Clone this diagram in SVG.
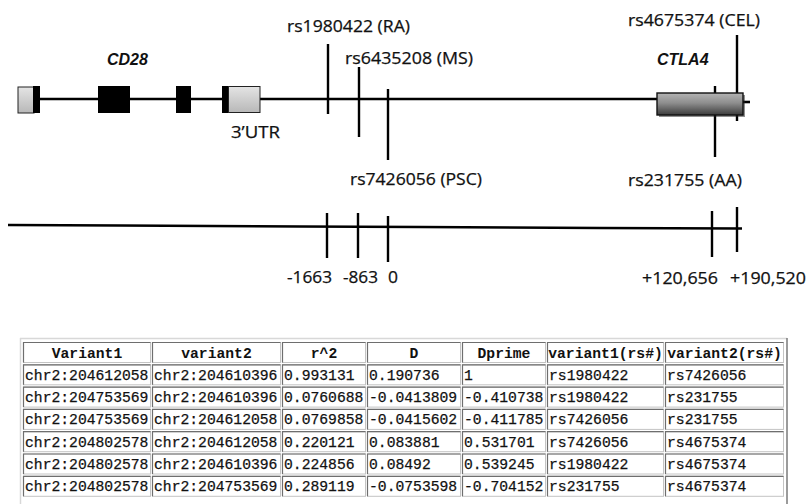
<svg xmlns="http://www.w3.org/2000/svg" width="809" height="504" viewBox="0 0 809 504">
<defs>
<linearGradient id="utr" x1="0" y1="0" x2="0" y2="1">
<stop offset="0" stop-color="#e4e4e4"/><stop offset="1" stop-color="#b8b8b8"/>
</linearGradient>
<linearGradient id="ctla" x1="0" y1="0" x2="0" y2="1">
<stop offset="0" stop-color="#b4b4b4"/><stop offset="0.45" stop-color="#8e8e8e"/><stop offset="1" stop-color="#3c3c3c"/>
</linearGradient>
<style>
.ln{stroke:#000;stroke-width:2.6;fill:none;stroke-linecap:butt}
.tk{stroke:#000;stroke-width:2.4;fill:none}
.lab{font-family:"Open Sans","Liberation Sans",sans-serif;font-size:16.5px;fill:#111;stroke:#111;stroke-width:0.25}
.gene{font-family:"Liberation Sans",Arial,sans-serif;font-size:16px;font-weight:bold;font-style:italic;fill:#111}
.th{font-family:"Liberation Mono","Courier New",monospace;font-size:14.7px;font-weight:bold;fill:#111;text-anchor:middle}
.td{font-family:"Liberation Mono","Courier New",monospace;font-size:14.7px;fill:#111;stroke:#111;stroke-width:0.25}
.cell{fill:#fff;stroke:#c4c4c4;stroke-width:1}
.ci{stroke:#6e6e6e;stroke-width:1.2;fill:none}
</style>
</defs>
<rect width="809" height="504" fill="#fff"/>

<g id="backbones">
<line class="ln" x1="40" y1="99" x2="657" y2="99" stroke-width="3"/>
<line class="ln" x1="743" y1="102" x2="750" y2="102"/>
<polyline class="ln" points="8,225 120,225.5 300,226.5 420,227 600,228 742,228.5" stroke-width="3"/>
</g>

<g id="cd28">
<rect x="18" y="87" width="16" height="26" fill="url(#utr)" stroke="#222" stroke-width="1"/>
<rect x="33" y="86" width="7" height="27" fill="#000"/>
<rect x="98" y="86" width="32" height="27" fill="#000"/>
<rect x="176" y="86" width="15" height="27" fill="#000"/>
<rect x="222" y="86" width="7" height="27" fill="#000"/>
<rect x="228.5" y="86.5" width="31.5" height="26" fill="url(#utr)" stroke="#222" stroke-width="1"/>
<text class="gene" x="107" y="65">CD28</text>
<text class="lab" x="231" y="138" textLength="49" lengthAdjust="spacingAndGlyphs">3’UTR</text>
</g>

<g id="connectors">
<line class="tk" x1="328" y1="44" x2="328" y2="114"/>
<line class="tk" x1="359" y1="67" x2="359" y2="137"/>
<line class="tk" x1="388" y1="89" x2="388" y2="160"/>
<line class="tk" x1="737" y1="35" x2="737" y2="93" stroke-width="2.8"/>
<line class="tk" x1="737" y1="93" x2="737" y2="121" stroke-width="2"/>
<line class="tk" x1="715" y1="86" x2="715" y2="157"/>
<line class="tk" x1="327" y1="213" x2="327" y2="258"/>
<line class="tk" x1="358" y1="213" x2="358" y2="258"/>
<line class="tk" x1="388" y1="216" x2="388" y2="262"/>
<line class="tk" x1="712" y1="211" x2="712" y2="257"/>
<line class="tk" x1="737" y1="207" x2="737" y2="252"/>
</g>

<g id="ctla4">
<rect x="659" y="95" width="86" height="22" fill="#222" opacity="0.5"/>
<rect x="657" y="93" width="86" height="22" fill="url(#ctla)" stroke="#111" stroke-width="1.4"/>
<text class="gene" x="657" y="65">CTLA4</text>
</g>

<g id="snp-labels">
<text class="lab" x="287" y="32" textLength="123" lengthAdjust="spacingAndGlyphs">rs1980422 (RA)</text>
<text class="lab" x="345" y="64" textLength="128" lengthAdjust="spacingAndGlyphs">rs6435208 (MS)</text>
<text class="lab" x="350" y="185" textLength="132" lengthAdjust="spacingAndGlyphs">rs7426056 (PSC)</text>
<text class="lab" x="628" y="26" textLength="132" lengthAdjust="spacingAndGlyphs">rs4675374 (CEL)</text>
<text class="lab" x="628" y="186" textLength="114" lengthAdjust="spacingAndGlyphs">rs231755 (AA)</text>
</g>

<g id="positions">
<text class="lab" x="287" y="283" textLength="45" lengthAdjust="spacingAndGlyphs">-1663</text>
<text class="lab" x="343" y="283" textLength="35" lengthAdjust="spacingAndGlyphs">-863</text>
<text class="lab" x="388" y="283" textLength="10" lengthAdjust="spacingAndGlyphs">0</text>
<text class="lab" x="642" y="284" textLength="76" lengthAdjust="spacingAndGlyphs">+120,656</text>
<text class="lab" x="730" y="284" textLength="76" lengthAdjust="spacingAndGlyphs">+190,520</text>
</g>

<g id="ld-table">
<line x1="20.5" y1="338" x2="20.5" y2="504" stroke="#d8d8d8" stroke-width="1.5"/>
<line x1="20" y1="338.5" x2="787" y2="338.5" stroke="#d8d8d8" stroke-width="1.5"/>
<line x1="787" y1="338" x2="787" y2="504" stroke="#7a7a7a" stroke-width="1.5"/>
<g id="header">
<rect class="cell" x="23.5" y="342.5" width="127" height="20"/>
<rect class="cell" x="152.5" y="342.5" width="128" height="20"/>
<rect class="cell" x="282.5" y="342.5" width="83" height="20"/>
<rect class="cell" x="367.5" y="342.5" width="93" height="20"/>
<rect class="cell" x="462.5" y="342.5" width="83" height="20"/>
<rect class="cell" x="547.5" y="342.5" width="116" height="20"/>
<rect class="cell" x="665.5" y="342.5" width="118" height="20"/>
<path class="ci" d="M23.5,362.5V342.5H150.5 M152.5,362.5V342.5H280.5 M282.5,362.5V342.5H365.5 M367.5,362.5V342.5H460.5 M462.5,362.5V342.5H545.5 M547.5,362.5V342.5H663.5 M665.5,362.5V342.5H783.5"/>
<text class="th" x="87" y="357.5">Variant1</text>
<text class="th" x="216.5" y="357.5">variant2</text>
<text class="th" x="324" y="357.5">r^2</text>
<text class="th" x="414" y="357.5">D</text>
<text class="th" x="504" y="357.5">Dprime</text>
<text class="th" x="605.5" y="357.5">variant1(rs#)</text>
<text class="th" x="724.5" y="357.5">variant2(rs#)</text>
</g>
<g id="rows">
<g transform="translate(0,22.3)">
<rect class="cell" x="23.5" y="342.5" width="127" height="20"/><rect class="cell" x="152.5" y="342.5" width="128" height="20"/><rect class="cell" x="282.5" y="342.5" width="83" height="20"/><rect class="cell" x="367.5" y="342.5" width="93" height="20"/><rect class="cell" x="462.5" y="342.5" width="83" height="20"/><rect class="cell" x="547.5" y="342.5" width="116" height="20"/><rect class="cell" x="665.5" y="342.5" width="118" height="20"/>
<path class="ci" d="M23.5,362.5V342.5H150.5 M152.5,362.5V342.5H280.5 M282.5,362.5V342.5H365.5 M367.5,362.5V342.5H460.5 M462.5,362.5V342.5H545.5 M547.5,362.5V342.5H663.5 M665.5,362.5V342.5H783.5"/>
<text class="td" x="25" y="357.5">chr2:204612058</text><text class="td" x="154" y="357.5">chr2:204610396</text><text class="td" x="284" y="357.5">0.993131</text><text class="td" x="369" y="357.5">0.190736</text><text class="td" x="464" y="357.5">1</text><text class="td" x="549" y="357.5">rs1980422</text><text class="td" x="667" y="357.5">rs7426056</text>
</g>
<g transform="translate(0,44.6)">
<rect class="cell" x="23.5" y="342.5" width="127" height="20"/><rect class="cell" x="152.5" y="342.5" width="128" height="20"/><rect class="cell" x="282.5" y="342.5" width="83" height="20"/><rect class="cell" x="367.5" y="342.5" width="93" height="20"/><rect class="cell" x="462.5" y="342.5" width="83" height="20"/><rect class="cell" x="547.5" y="342.5" width="116" height="20"/><rect class="cell" x="665.5" y="342.5" width="118" height="20"/>
<path class="ci" d="M23.5,362.5V342.5H150.5 M152.5,362.5V342.5H280.5 M282.5,362.5V342.5H365.5 M367.5,362.5V342.5H460.5 M462.5,362.5V342.5H545.5 M547.5,362.5V342.5H663.5 M665.5,362.5V342.5H783.5"/>
<text class="td" x="25" y="357.5">chr2:204753569</text><text class="td" x="154" y="357.5">chr2:204610396</text><text class="td" x="284" y="357.5">0.0760688</text><text class="td" x="369" y="357.5">-0.0413809</text><text class="td" x="464" y="357.5">-0.410738</text><text class="td" x="549" y="357.5">rs1980422</text><text class="td" x="667" y="357.5">rs231755</text>
</g>
<g transform="translate(0,66.9)">
<rect class="cell" x="23.5" y="342.5" width="127" height="20"/><rect class="cell" x="152.5" y="342.5" width="128" height="20"/><rect class="cell" x="282.5" y="342.5" width="83" height="20"/><rect class="cell" x="367.5" y="342.5" width="93" height="20"/><rect class="cell" x="462.5" y="342.5" width="83" height="20"/><rect class="cell" x="547.5" y="342.5" width="116" height="20"/><rect class="cell" x="665.5" y="342.5" width="118" height="20"/>
<path class="ci" d="M23.5,362.5V342.5H150.5 M152.5,362.5V342.5H280.5 M282.5,362.5V342.5H365.5 M367.5,362.5V342.5H460.5 M462.5,362.5V342.5H545.5 M547.5,362.5V342.5H663.5 M665.5,362.5V342.5H783.5"/>
<text class="td" x="25" y="357.5">chr2:204753569</text><text class="td" x="154" y="357.5">chr2:204612058</text><text class="td" x="284" y="357.5">0.0769858</text><text class="td" x="369" y="357.5">-0.0415602</text><text class="td" x="464" y="357.5">-0.411785</text><text class="td" x="549" y="357.5">rs7426056</text><text class="td" x="667" y="357.5">rs231755</text>
</g>
<g transform="translate(0,89.2)">
<rect class="cell" x="23.5" y="342.5" width="127" height="20"/><rect class="cell" x="152.5" y="342.5" width="128" height="20"/><rect class="cell" x="282.5" y="342.5" width="83" height="20"/><rect class="cell" x="367.5" y="342.5" width="93" height="20"/><rect class="cell" x="462.5" y="342.5" width="83" height="20"/><rect class="cell" x="547.5" y="342.5" width="116" height="20"/><rect class="cell" x="665.5" y="342.5" width="118" height="20"/>
<path class="ci" d="M23.5,362.5V342.5H150.5 M152.5,362.5V342.5H280.5 M282.5,362.5V342.5H365.5 M367.5,362.5V342.5H460.5 M462.5,362.5V342.5H545.5 M547.5,362.5V342.5H663.5 M665.5,362.5V342.5H783.5"/>
<text class="td" x="25" y="357.5">chr2:204802578</text><text class="td" x="154" y="357.5">chr2:204612058</text><text class="td" x="284" y="357.5">0.220121</text><text class="td" x="369" y="357.5">0.083881</text><text class="td" x="464" y="357.5">0.531701</text><text class="td" x="549" y="357.5">rs7426056</text><text class="td" x="667" y="357.5">rs4675374</text>
</g>
<g transform="translate(0,111.5)">
<rect class="cell" x="23.5" y="342.5" width="127" height="20"/><rect class="cell" x="152.5" y="342.5" width="128" height="20"/><rect class="cell" x="282.5" y="342.5" width="83" height="20"/><rect class="cell" x="367.5" y="342.5" width="93" height="20"/><rect class="cell" x="462.5" y="342.5" width="83" height="20"/><rect class="cell" x="547.5" y="342.5" width="116" height="20"/><rect class="cell" x="665.5" y="342.5" width="118" height="20"/>
<path class="ci" d="M23.5,362.5V342.5H150.5 M152.5,362.5V342.5H280.5 M282.5,362.5V342.5H365.5 M367.5,362.5V342.5H460.5 M462.5,362.5V342.5H545.5 M547.5,362.5V342.5H663.5 M665.5,362.5V342.5H783.5"/>
<text class="td" x="25" y="357.5">chr2:204802578</text><text class="td" x="154" y="357.5">chr2:204610396</text><text class="td" x="284" y="357.5">0.224856</text><text class="td" x="369" y="357.5">0.08492</text><text class="td" x="464" y="357.5">0.539245</text><text class="td" x="549" y="357.5">rs1980422</text><text class="td" x="667" y="357.5">rs4675374</text>
</g>
<g transform="translate(0,133.8)">
<rect class="cell" x="23.5" y="342.5" width="127" height="20"/><rect class="cell" x="152.5" y="342.5" width="128" height="20"/><rect class="cell" x="282.5" y="342.5" width="83" height="20"/><rect class="cell" x="367.5" y="342.5" width="93" height="20"/><rect class="cell" x="462.5" y="342.5" width="83" height="20"/><rect class="cell" x="547.5" y="342.5" width="116" height="20"/><rect class="cell" x="665.5" y="342.5" width="118" height="20"/>
<path class="ci" d="M23.5,362.5V342.5H150.5 M152.5,362.5V342.5H280.5 M282.5,362.5V342.5H365.5 M367.5,362.5V342.5H460.5 M462.5,362.5V342.5H545.5 M547.5,362.5V342.5H663.5 M665.5,362.5V342.5H783.5"/>
<text class="td" x="25" y="357.5">chr2:204802578</text><text class="td" x="154" y="357.5">chr2:204753569</text><text class="td" x="284" y="357.5">0.289119</text><text class="td" x="369" y="357.5">-0.0753598</text><text class="td" x="464" y="357.5">-0.704152</text><text class="td" x="549" y="357.5">rs231755</text><text class="td" x="667" y="357.5">rs4675374</text>
</g>
</g>
</g>
</svg>
